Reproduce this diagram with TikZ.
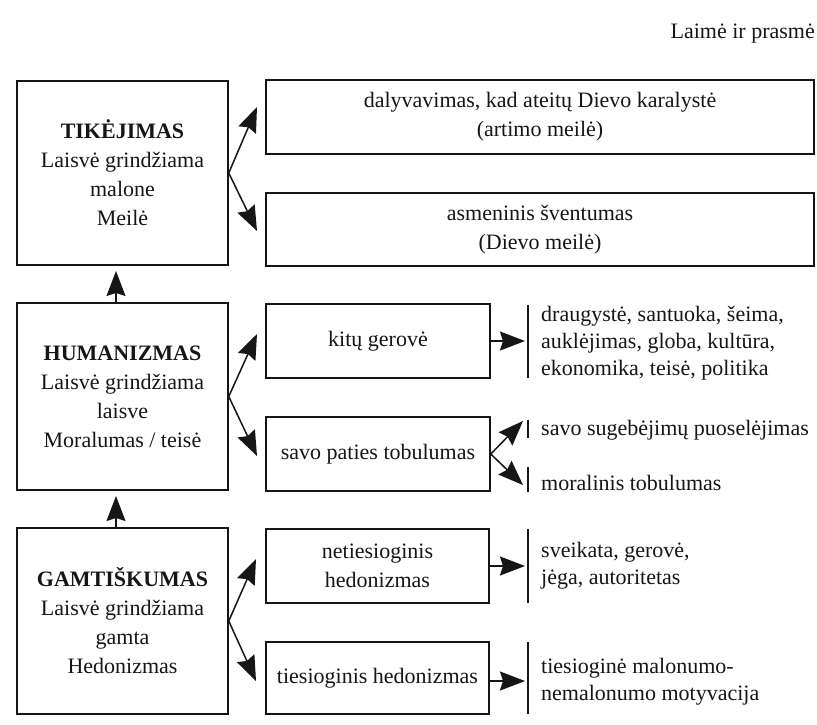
\documentclass[tikz,border=0pt]{standalone}
\usepackage{fontspec}
\setmainfont{Liberation Serif}
\usetikzlibrary{arrows.meta,calc}
\definecolor{ink}{RGB}{22,22,22}
\begin{document}
\begin{tikzpicture}[x=1pt,y=-1pt,
  box/.style={draw=ink, line width=1.5pt, rectangle, inner sep=0pt, align=center,
              font=\fontsize{22}{29}\selectfont, text=ink},
  note/.style={anchor=west, align=left, inner sep=0pt,
               font=\fontsize{22}{27}\selectfont, text=ink},
  arr/.style={draw=ink, line width=1.5pt, -{Stealth[length=25pt,width=19pt,inset=3pt]}},
  barline/.style={draw=ink, line width=1.5pt}]
\useasboundingbox (0,0) rectangle (817,724);
\fill[white] (0,0) rectangle (817,724);

% header
\node[anchor=base east, inner sep=0pt, font=\fontsize{22}{27}\selectfont, text=ink] (hdr) at (815,38) {Laimė ir prasmė};

% left column
\node[box, minimum width=211pt, minimum height=184pt] (T) at (122.5,173)
  {\textbf{TIKĖJIMAS}\\Laisvė grindžiama\\malone\\Meilė};
\node[box, minimum width=211pt, minimum height=187pt] (H) at (122.5,396.5)
  {\textbf{HUMANIZMAS}\\Laisvė grindžiama\\laisve\\Moralumas / teisė};
\node[box, minimum width=211pt, minimum height=186pt] (G) at (122.5,621)
  {\textbf{GAMTIŠKUMAS}\\Laisvė grindžiama\\gamta\\Hedonizmas};

% middle column
\node[box, minimum width=548pt, minimum height=74pt] (T1) at (540,117)
  {dalyvavimas, kad ateitų Dievo karalystė\\(artimo meilė)};
\node[box, minimum width=548pt, minimum height=73pt] (T2) at (540,229.5)
  {asmeninis šventumas\\(Dievo meilė)};
\node[box, minimum width=224pt, minimum height=74pt] (H1) at (378,341) {kitų gerovė};
\node[box, minimum width=224pt, minimum height=74pt] (H2) at (378,454) {savo paties tobulumas};
\node[box, minimum width=223pt, minimum height=74pt] (G1) at (377.5,566) {netiesioginis\\hedonizmas};
\node[box, minimum width=223pt, minimum height=72pt] (G2) at (377.5,678) {tiesioginis hedonizmas};

% right column texts
\node[note] (H1t) at (541,343) {draugystė, santuoka, šeima,\\auklėjimas, globa, kultūra,\\ekonomika, teisė, politika};
\node[note] (H2a) at (541,430) {savo sugebėjimų puoselėjimas};
\node[note] (H2b) at (541,483) {moralinis tobulumas};
\node[note] (G1t) at (541,566) {sveikata, gerovė,\\jėga, autoritetas};
\node[note] (G2t) at (541,682) {tiesioginė malonumo-\\nemalonumo motyvacija};

% bars
\draw[barline] (528,305) -- (528,378);
\draw[barline] (528,420) -- (528,438);
\draw[barline] (528,467) -- (528,492);
\draw[barline] (528,529) -- (528,603);
\draw[barline] (528,642) -- (528,714);

% arrow tip coordinates
\coordinate (tT1) at (257,107);
\coordinate (tT2) at (257,231);
\coordinate (tH1) at (257,334);
\coordinate (tH2) at (257,456);
\coordinate (tG1) at (256,559);
\coordinate (tG2) at (256,681);
\coordinate (sHup) at (116,303);
\coordinate (tHup) at (116,271);
\coordinate (sGup) at (116,528);
\coordinate (tGup) at (116,496);
\coordinate (rH1) at (525,341);
\coordinate (rH2a) at (523,421);
\coordinate (rH2b) at (523,485);
\coordinate (rG1) at (525,566);
\coordinate (rG2) at (525,681);

% arrows
\draw[arr] (T.east) -- (tT1);
\draw[arr] (T.east) -- (tT2);
\draw[arr] (H.east) -- (tH1);
\draw[arr] (H.east) -- (tH2);
\draw[arr] (G.east) -- (tG1);
\draw[arr] (G.east) -- (tG2);
\draw[arr] (sHup) -- (tHup);
\draw[arr] (sGup) -- (tGup);
\draw[arr] (H1.east) -- (rH1);
\draw[arr] (H2.east) -- (rH2a);
\draw[arr] (H2.east) -- (rH2b);
\draw[arr] (G1.east) -- (rG1);
\draw[arr] (G2.east |- rG2) -- (rG2);
\end{tikzpicture}
\end{document}
